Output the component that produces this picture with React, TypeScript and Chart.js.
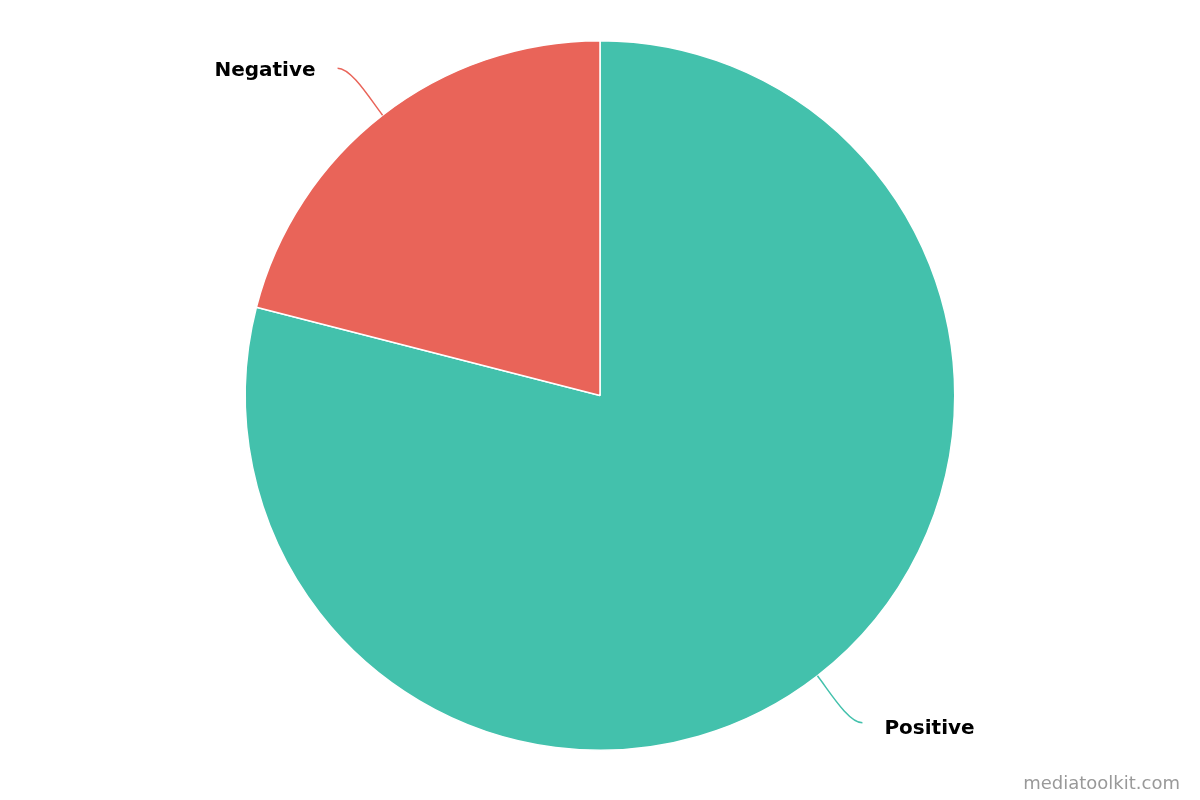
import React, { useEffect, useRef } from "react";
import { Chart, registerables } from "chart.js";

Chart.register(...registerables);

const categories = ["Positive", "Negative"];
const values = [79, 21];
const colors = ["#43c1ac", "#e96459"];
const watermark = "mediatoolkit.com";

const labelPlugin = {
  id: "pieLabels",
  afterDraw(chart: any) {
    const ctx = chart.ctx;
    const meta = chart.getDatasetMeta(0);
    meta.data.forEach((arc: any, i: number) => {
      const { x, y, outerRadius, startAngle, endAngle } = arc.getProps(
        ["x", "y", "outerRadius", "startAngle", "endAngle"],
        true
      );
      const mid = (startAngle + endAngle) / 2;
      const cos = Math.cos(mid);
      const sin = Math.sin(mid);
      const sx = x + outerRadius * cos;
      const sy = y + outerRadius * sin;
      const side = cos >= 0 ? 1 : -1;
      const ex = sx + side * 45;
      const ey = sy + (sin >= 0 ? 1 : -1) * 47;
      ctx.save();
      ctx.strokeStyle = colors[i];
      ctx.lineWidth = 1.5;
      ctx.beginPath();
      ctx.moveTo(sx, sy);
      ctx.bezierCurveTo(
        sx + cos * 20,
        sy + sin * 20,
        ex - side * 14,
        ey,
        ex,
        ey
      );
      ctx.stroke();
      ctx.fillStyle = "#000";
      ctx.font = "bold 20px 'DejaVu Sans'";
      ctx.textBaseline = "middle";
      ctx.textAlign = side > 0 ? "left" : "right";
      ctx.fillText(categories[i], ex + side * 22, ey + (sin >= 0 ? 6 : 3));
      ctx.restore();
    });
    ctx.save();
    ctx.fillStyle = "#999999";
    ctx.font = "18px 'DejaVu Sans'";
    ctx.textAlign = "right";
    ctx.textBaseline = "middle";
    ctx.fillText(watermark, 1180, 784);
    ctx.restore();
  },
};

export default function App() {
  const ref = useRef<HTMLCanvasElement>(null);
  useEffect(() => {
    document.body.style.margin = "0";
    const chart = new Chart(ref.current!, {
      type: "pie",
      data: {
        labels: categories,
        datasets: [
          {
            data: values,
            backgroundColor: colors,
            borderColor: "#ffffff",
            borderWidth: 1.5,
          },
        ],
      },
      options: {
        animation: false,
        responsive: false,
        layout: { padding: { top: 40, bottom: 49, left: 0, right: 0 } },
        plugins: { legend: { display: false }, tooltip: { enabled: false } },
      },
      plugins: [labelPlugin],
    });
    return () => chart.destroy();
  }, []);
  return (
    <div style={{ position: "absolute", left: 0, top: 0, width: 1200, height: 800, background: "#fff" }}>
      <canvas ref={ref} width={1200} height={800} />
    </div>
  );
}
